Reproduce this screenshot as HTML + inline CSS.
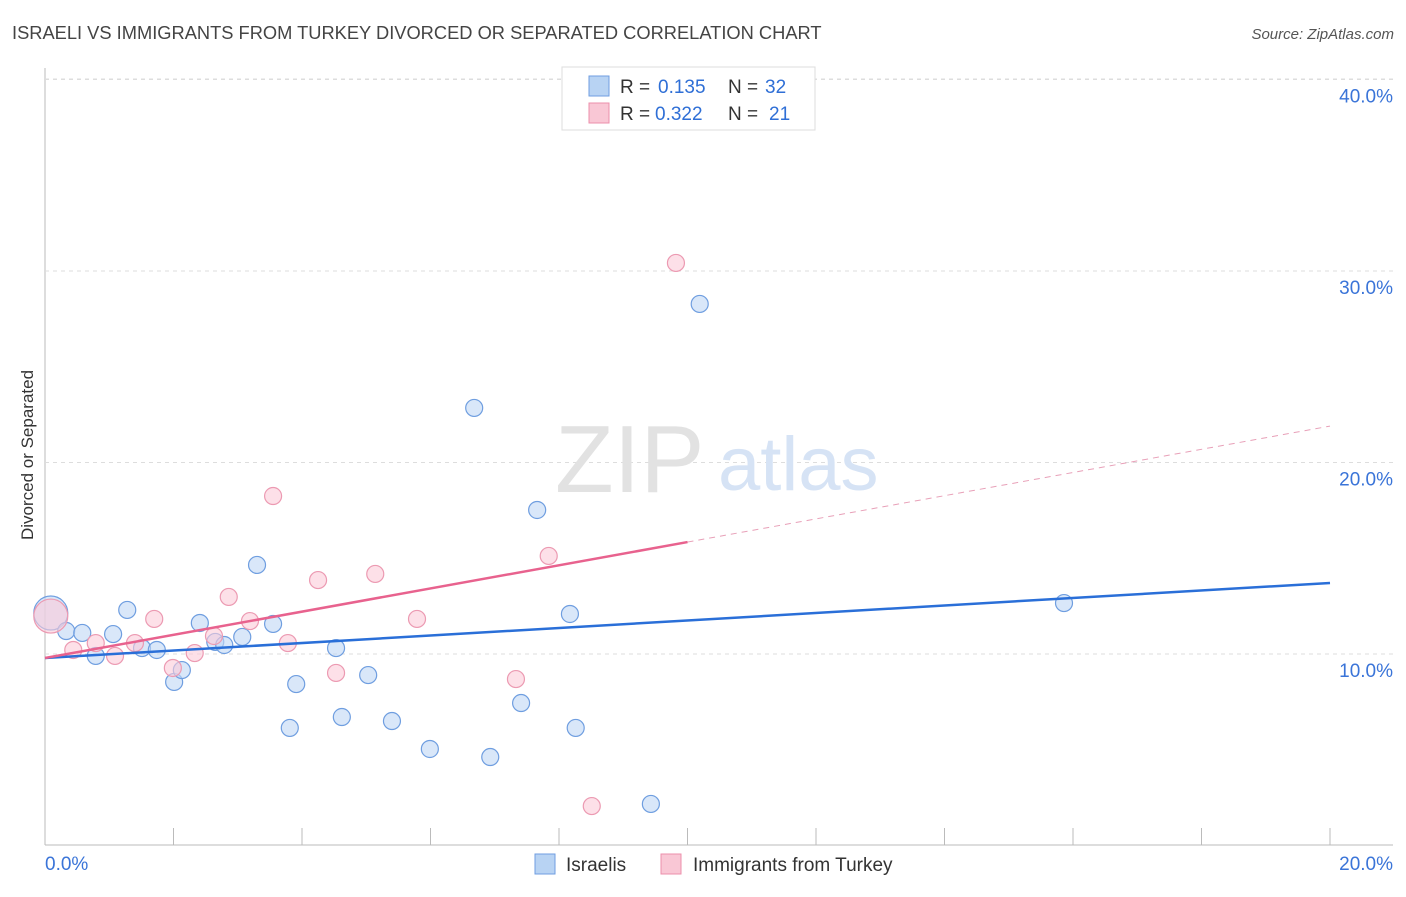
<!DOCTYPE html>
<html><head><meta charset="utf-8"><style>
body{margin:0;background:#fff;font-family:"Liberation Sans",sans-serif}
svg text{font-family:"Liberation Sans",sans-serif}
</style></head><body>
<svg id="c" width="1406" height="892">
<text x="12" y="39" font-size="18.3" fill="#444">ISRAELI VS IMMIGRANTS FROM TURKEY DIVORCED OR SEPARATED CORRELATION CHART</text>
<text x="1394" y="39" font-size="15" fill="#555" font-style="italic" text-anchor="end">Source: ZipAtlas.com</text>
<text transform="translate(33,455) rotate(-90)" font-size="17" fill="#333" text-anchor="middle">Divorced or Separated</text>
<g id="grid"></g>
<text x="555" y="492" font-size="96" fill="#e2e2e2" font-family="Liberation Serif">ZIP</text>
<text x="718" y="490" font-size="76" fill="#d6e3f5">atlas</text>
<g id="marks"></g>
<g>
<rect x="562" y="67" width="253" height="63" fill="#fff" stroke="#ddd"/>
<rect x="589" y="76" width="20" height="20" fill="#b8d3f3" stroke="#6f9ee0"/>
<rect x="589" y="103" width="20" height="20" fill="#f9c7d5" stroke="#ec8fab"/>
<text x="620" y="93" font-size="19" fill="#333">R =</text>
<text x="658" y="93" font-size="19" fill="#2f6fd6">0.135</text>
<text x="728" y="93" font-size="19" fill="#333">N =</text>
<text x="765" y="93" font-size="19" fill="#2f6fd6">32</text>
<text x="620" y="120" font-size="19" fill="#333">R =</text>
<text x="655" y="120" font-size="19" fill="#2f6fd6">0.322</text>
<text x="728" y="120" font-size="19" fill="#333">N =</text>
<text x="769" y="120" font-size="19" fill="#2f6fd6">21</text>
</g>
<g>
<rect x="535" y="854" width="20" height="20" fill="#b8d3f3" stroke="#6f9ee0"/>
<text x="566" y="871" font-size="19" fill="#333">Israelis</text>
<rect x="661" y="854" width="20" height="20" fill="#f9c7d5" stroke="#ec8fab"/>
<text x="693" y="871" font-size="19" fill="#333">Immigrants from Turkey</text>
</g>
</svg>
<script>
const blueX=[0.09,0.33,0.58,0.79,1.06,1.28,1.51,1.74,2.01,2.13,2.41,2.65,2.79,3.07,3.30,3.55,3.81,3.91,4.53,4.62,5.03,5.40,5.99,6.68,6.93,7.41,7.66,8.17,8.26,9.43,10.19,15.86];
const blueY=[12.14,11.20,11.10,9.90,11.04,12.30,10.31,10.21,8.54,9.16,11.62,10.63,10.47,10.89,14.65,11.57,6.14,8.43,10.31,6.71,8.90,6.50,5.04,22.85,4.62,7.44,17.52,12.09,6.14,2.17,28.28,12.66];
const pinkX=[0.09,0.44,0.79,1.09,1.40,1.70,1.99,2.33,2.63,2.86,3.19,3.55,3.78,4.25,4.53,5.14,5.79,7.33,7.84,8.51,9.82];
const pinkY=[11.98,10.21,10.57,9.90,10.57,11.83,9.27,10.05,10.94,12.98,11.72,18.25,10.57,13.86,9.01,14.18,11.83,8.69,15.12,2.06,30.42];
const blueTrend=[9.79,13.71];
const pinkTrend=[9.79,21.9];
const yTicks=[10,20,30,40];
const xTickLabels=["0.0%","20.0%"];
const NS="http://www.w3.org/2000/svg";
const sx=v=>45+v/20*1285, sy=v=>654-(v-10)*19.15;
function mk(t,a,p){const e=document.createElementNS(NS,t);for(const k in a)e.setAttribute(k,a[k]);p.appendChild(e);return e;}
const g=document.getElementById('grid'), m=document.getElementById('marks');
mk('line',{x1:45,y1:68,x2:45,y2:845,stroke:'#bbb'},g);
mk('line',{x1:45,y1:845,x2:1393,y2:845,stroke:'#bbb'},g);
for(let i=0;i<=10;i++){const x=45+i*128.5;mk('line',{x1:x,y1:828,x2:x,y2:845,stroke:'#bbb'},g);}
yTicks.forEach(v=>{
const l=mk('line',{x1:45,y1:sy(v),x2:1393,y2:sy(v),stroke:'#ddd','stroke-dasharray':'4,4'},g);


const t=mk('text',{x:1393,y:sy(v)+23,'font-size':19,fill:'#3a74d8','text-anchor':'end'},g);t.textContent=v.toFixed(1)+'%';


});
mk('line',{x1:45,y1:79,x2:1393,y2:79,stroke:'#ddd','stroke-dasharray':'4,4'},g);
const t0=mk('text',{x:45,y:870,'font-size':19,fill:'#3a74d8'},g);t0.textContent=xTickLabels[0];


const t1=mk('text',{x:1393,y:870,'font-size':19,fill:'#3a74d8','text-anchor':'end'},g);t1.textContent=xTickLabels[1];


function pts(X,Y,fill,stroke,name){X.forEach((x,i)=>{const c=mk('circle',{cx:sx(x),cy:sy(Y[i]),r:i===0?17:8.5,fill:fill,'fill-opacity':0.6,stroke:stroke,'stroke-width':1.2},m);

});}
pts(blueX,blueY,'#c0d7f5','#6f9ee0','israeli-point');
pts(pinkX,pinkY,'#fbcbd9','#ec9ab2','turkey-point');
const bl=mk('line',{x1:sx(0),y1:sy(blueTrend[0]),x2:sx(20),y2:sy(blueTrend[1]),stroke:'#2a6fd8','stroke-width':2.5},m);


const pm=pinkTrend[0]+(pinkTrend[1]-pinkTrend[0])*0.5;
const pl=mk('line',{x1:sx(0),y1:sy(pinkTrend[0]),x2:sx(10),y2:sy(pm),stroke:'#e8628e','stroke-width':2.5},m);


const pd=mk('line',{x1:sx(10),y1:sy(pm),x2:sx(20),y2:sy(pinkTrend[1]),stroke:'#e8a0b8','stroke-width':1,'stroke-dasharray':'6,5'},m);


</script>
</body></html>
